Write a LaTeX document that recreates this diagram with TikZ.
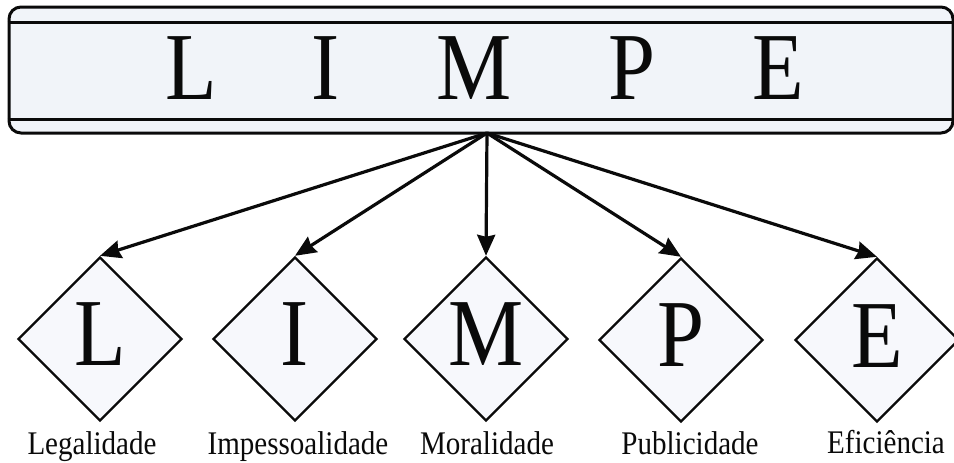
\documentclass[tikz,border=0pt]{standalone}
\usepackage{fontspec}
\setmainfont[FakeStretch=0.88]{Liberation Serif}
\usetikzlibrary{positioning,calc,shapes.geometric,arrows.meta}
\definecolor{limpeink}{RGB}{10,10,10}
\definecolor{limpefill}{RGB}{241,244,249}
\definecolor{limpepale}{RGB}{247,248,252}

\begin{document}
\begin{tikzpicture}[
  x=1pt, y=-1pt,
  banner/.style={draw=limpeink, line width=3pt, fill=limpefill, rounded corners=12pt, minimum width=944pt, minimum height=126pt, inner sep=0pt},
  bigletter/.style={font=\fontsize{96}{96}\selectfont, text=limpeink, anchor=base, inner sep=0pt},
  pbox/.style={diamond, aspect=1, draw=limpeink, line width=2.4pt, fill=limpepale, minimum width=164pt, minimum height=164pt, inner sep=0pt},
  plabel/.style={font=\fontsize{33}{33}\selectfont, text=limpeink, anchor=base, inner sep=0pt},
  spoke/.style={-{Stealth[length=21pt, width=18pt, inset=2pt]}, limpeink, line width=3.2pt},
]
\useasboundingbox (0,0) rectangle (954,463);

% banner with the five initials
\node[banner] (banner) at (481,70) {};
\draw[limpeink, line width=3pt] ($(banner.north west)+(0,17)$) -- ($(banner.north east)+(0,17)$);
\draw[limpeink, line width=3pt] ($(banner.south west)+(0,-15)$) -- ($(banner.south east)+(0,-15)$);
\node[bigletter] (tl) at (191,99) {L};
\node[bigletter] (ti) at (326,99) {I};
\node[bigletter] (tm) at (474,99) {M};
\node[bigletter] (tp) at (632,99) {P};
\node[bigletter] (te) at (778,99) {E};
\coordinate (hub) at (487,133);

% one diamond per principle
\node[pbox] (dl) at (100,339) {};
\node[pbox] (di) at (295,339) {};
\node[pbox] (dm) at (486,339) {};
\node[pbox] (dp) at (681,340) {};
\node[pbox] (de) at (877,340) {};
\node[bigletter] (ll) at (dl.center |- 0,365) {L};
\node[bigletter] (li) at (di.center |- 0,365) {I};
\node[bigletter] (lm) at (dm.center |- 0,365) {M};
\node[bigletter] (lp) at (dp.center |- 0,366) {P};
\node[bigletter] (le) at (de.center |- 0,367) {E};

\node[plabel] (nl) at (92,454) {Legalidade};
\node[plabel] (ni) at (298,454) {Impessoalidade};
\node[plabel] (nm) at (487,454) {Moralidade};
\node[plabel] (np) at (690,454) {Publicidade};
\node[plabel] (ne) at (886,453) {Eficiência};

\draw[spoke] (hub) -- (dl.north);
\draw[spoke] (hub) -- (di.north);
\draw[spoke] (hub) -- (dm.north);
\draw[spoke] (hub) -- (dp.north);
\draw[spoke] (hub) -- (de.north);
\end{tikzpicture}
\end{document}
